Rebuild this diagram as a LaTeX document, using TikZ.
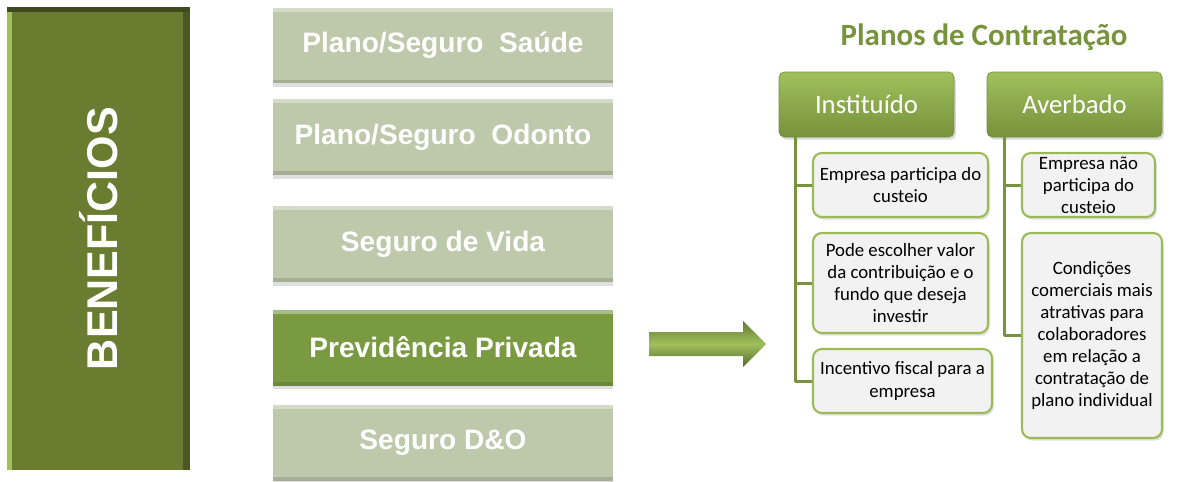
\documentclass[tikz,border=0pt]{standalone}
\usepackage{fontspec}
\setmainfont{Carlito}
\newfontfamily\arialfont{Liberation Sans}
\usetikzlibrary{shadows}
\definecolor{olivebox}{RGB}{106,124,48}
\definecolor{graybox}{RGB}{190,200,170}
\definecolor{prevgreen}{RGB}{122,154,66}
\definecolor{headtop}{RGB}{160,192,92}
\definecolor{headbot}{RGB}{118,146,60}
\definecolor{leafline}{RGB}{155,187,89}
\definecolor{leaffill}{RGB}{242,242,242}
\definecolor{trunk}{RGB}{119,147,60}
\begin{document}
\begin{tikzpicture}[x=0.02cm,y=-0.02cm,line join=round,
	bevel/.style={path picture={
		\fill[white,opacity=0.35] (path picture bounding box.north west) rectangle ([yshift=-2.5pt]path picture bounding box.north east);
		\fill[black,opacity=0.12] ([yshift=2pt]path picture bounding box.south west) rectangle (path picture bounding box.south east);}},
	item/.style={fill=graybox,bevel,minimum width=6.8cm,minimum height=1.52cm,inner sep=0pt,
		text=white,font=\arialfont\bfseries\fontsize{16}{19}\selectfont,
		drop shadow={shadow xshift=0pt,shadow yshift=-2pt,opacity=0.25}},
	head/.style={rounded corners=3pt,top color=headtop,bottom color=headbot,draw=headbot,
		minimum width=3.5cm,minimum height=1.3cm,inner sep=0pt,text=white,
		font=\fontsize{15.2}{18}\selectfont,
		drop shadow={shadow xshift=1pt,shadow yshift=-1.5pt,opacity=0.3}},
	leaf/.style={rounded corners=5pt,fill=leaffill,draw=leafline,line width=1.2pt,
		inner sep=2pt,align=center,font=\fontsize{10.7}{12.6}\selectfont,
		drop shadow={shadow xshift=1pt,shadow yshift=-1.5pt,opacity=0.25}},
	conn/.style={draw=trunk,line width=1.7pt}]
	\useasboundingbox (0,0) rectangle (1195,481);
	% coluna da esquerda
	\node[fill=olivebox,minimum width=3.66cm,minimum height=9.26cm,inner sep=0pt,
		path picture={
		\fill[headtop] (path picture bounding box.north west) rectangle ([xshift=3pt]path picture bounding box.south west);
		\fill[olivebox!70!black] ([xshift=-4pt]path picture bounding box.north east) rectangle (path picture bounding box.south east);
		\fill[olivebox!60!black] (path picture bounding box.north west) rectangle ([yshift=-3pt]path picture bounding box.north east);}]
		(benef) at (98.5,238.5) {};
	\node[rotate=90,text=white,font=\arialfont\bfseries\fontsize{24.5}{29}\selectfont] at (benef) {BENEFÍCIOS};
	% lista de beneficios
	\node[item] (saude) at (443,45.5) {Plano/Seguro\ \ Saúde};
	\node[item] (odonto) at (443,137) {Plano/Seguro\ \ Odonto};
	\node[item] (vida) at (443,244) {Seguro de Vida};
	\node[item,fill=prevgreen,drop shadow={opacity=0}] (prev) at (443,347.5) {Previdência Privada};
	\node[item] (dno) at (443,442.5) {Seguro D\&O};
	% seta
	\shade[top color=prevgreen!80!black,bottom color=prevgreen!70!black,middle color=headtop]
		(649,332) -- (743,332) -- (743,321) -- (766,344) -- (743,367) -- (743,356) -- (649,356) -- cycle;
	% planos de contratacao
	\node[text=trunk,font=\bfseries\fontsize{17.6}{21}\selectfont] (titulo) at (984,37) {Planos de Contratação};
	\node[head] (inst) at (866.5,104.5) {Instituído};
	\node[head] (aver) at (1074.5,104.5) {Averbado};
	\node[leaf,minimum width=3.5cm,minimum height=1.28cm] (i1) at (900.5,185) {Empresa participa do\\custeio};
	\node[leaf,minimum width=3.5cm,minimum height=2cm] (i2) at (900.5,283) {Pode escolher valor\\da contribuição e o\\fundo que deseja\\investir};
	\node[leaf,minimum width=3.58cm,minimum height=1.28cm] (i3) at (902.5,381) {Incentivo fiscal para a\\empresa};
	\node[leaf,minimum width=2.66cm,minimum height=1.28cm] (a1) at (1088.5,185) {Empresa não\\participa do\\custeio};
	\node[leaf,minimum width=2.8cm,minimum height=4.1cm] (a2) at (1092,335.5) {Condições\\comerciais mais\\atrativas para\\colaboradores\\em relação a\\contratação de\\plano individual};
	\coordinate (it) at (795,137);
	\coordinate (at) at (1004,137);
	\draw[conn] (it) |- (i1.west);
	\draw[conn] (it) |- (i2.west);
	\draw[conn] (it) |- (i3.west);
	\draw[conn] (at) |- (a1.west);
	\draw[conn] (at) |- (a2.west);
\end{tikzpicture}
\end{document}
